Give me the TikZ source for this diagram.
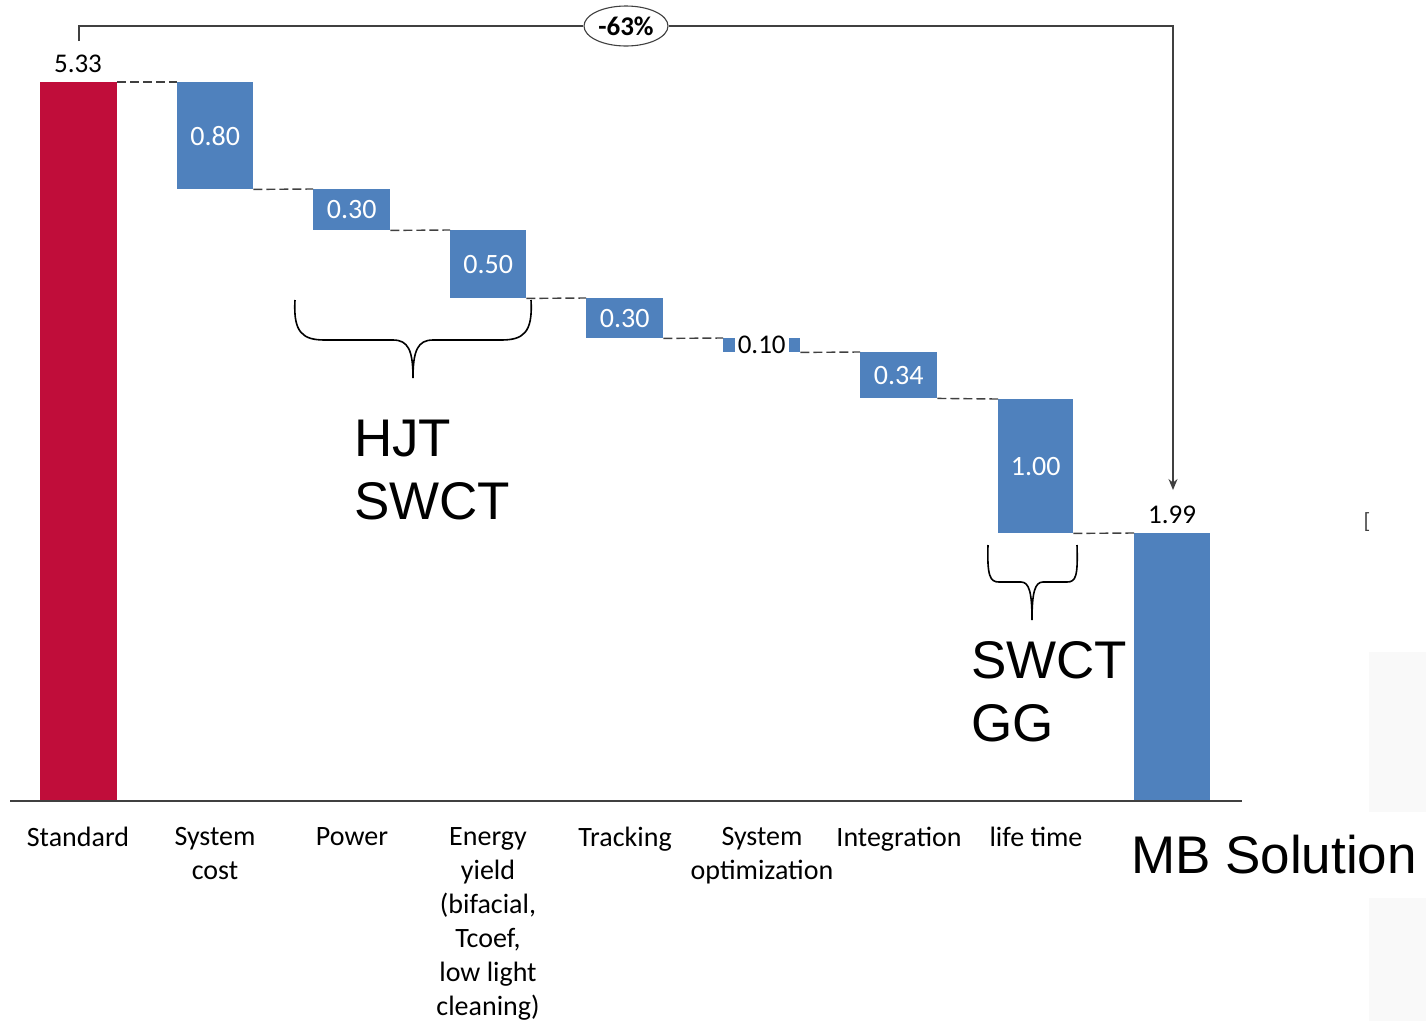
\documentclass[tikz,border=0pt]{standalone}
\usepackage{fontspec}
\setmainfont{Carlito}
\newfontfamily\arialf{Liberation Sans}
\usetikzlibrary{arrows.meta,shapes.geometric}
\definecolor{barblue}{HTML}{4F81BD}
\definecolor{barred}{HTML}{C00D3A}
\definecolor{linegray}{HTML}{404040}
\begin{document}
\begin{tikzpicture}[x=1pt,y=-1pt,
  bar/.style={fill=barblue,draw=none,inner sep=0pt,anchor=north west,text=white,
    font=\fontsize{28}{32}\selectfont},
  conn/.style={draw=linegray,line width=1.4pt,dash pattern=on 9pt off 4pt},
  catlab/.style={anchor=north,align=center,inner sep=0pt,font=\fontsize{28}{34}\selectfont},
  vallab/.style={inner sep=0pt,font=\fontsize{27}{30}\selectfont},
  biglab/.style={anchor=north west,align=left,inner sep=0pt,font=\arialf\fontsize{53}{63}\selectfont},
  brace/.style={draw=black,line width=1.6pt}]
\useasboundingbox (0,0) rectangle (1426,1021);
% faint background artefacts at right edge
\fill[gray!5] (1369,652) rectangle (1426,812);
\fill[gray!5] (1369,898) rectangle (1426,1021);
\node[inner sep=0pt,text=linegray,font=\fontsize{22}{24}\selectfont] (stray) at (1367,522) {[};
% bars
\node[bar,fill=barred,minimum width=77pt,minimum height=719pt] (b1) at (40,82) {};
\node[bar,minimum width=76pt,minimum height=107pt] (b2) at (177,82) {0.80};
\node[bar,minimum width=77pt,minimum height=41pt] (b3) at (313,189) {0.30};
\node[bar,minimum width=76pt,minimum height=68pt] (b4) at (450,230) {0.50};
\node[bar,minimum width=77pt,minimum height=40pt] (b5) at (586,298) {0.30};
\node[bar,minimum width=77pt,minimum height=14pt] (b6) at (723,338) {};
\node[bar,minimum width=77pt,minimum height=46pt] (b7) at (860,352) {0.34};
\node[bar,minimum width=75pt,minimum height=134pt] (b8) at (998,399) {1.00};
\node[bar,minimum width=76pt,minimum height=268pt] (b9) at (1134,533) {};
\node[vallab,fill=white,inner xsep=3pt] (v6) at (b6.center) {0.10};
\node[vallab,anchor=south] (v1) at (78,73) {5.33};
\node[vallab,anchor=south] (v9) at (1172,524) {1.99};
% dashed connectors
\draw[conn] (b1.north east) -- (b2.north west);
\draw[conn] (b2.south east) -- (b3.north west);
\draw[conn] (b3.south east) -- (b4.north west);
\draw[conn] (b4.south east) -- (b5.north west);
\draw[conn] (b5.south east) -- (b6.north west);
\draw[conn] (b6.south east) -- (b7.north west);
\draw[conn] (b7.south east) -- (b8.north west);
\draw[conn] (b8.south east) -- (b9.north west);
% axis
\coordinate (axL) at (10,801);
\coordinate (axR) at (1242,801);
\draw[linegray,line width=1.5pt] (axL) -- (axR);
% total change arrow
\coordinate (tS) at (79,41);
\coordinate (tE) at (1173,490);
\node[ellipse,draw=linegray,fill=white,line width=1.1pt,inner sep=1pt,minimum width=84pt,minimum height=40pt,
  font=\bfseries\fontsize{27}{30}\selectfont] (pct) at (626,26) {-63\%};
\draw[linegray,line width=1.3pt] (tS) |- (pct.west);
\draw[linegray,line width=1.3pt,-{Stealth[length=11pt,width=9pt]}] (pct.east) -| (tE);
% category labels
\node[catlab] (c1) at (78,827) {Standard};
\node[catlab] (c2) at (215,827) {System\\cost};
\node[catlab] (c3) at (352,827) {Power};
\node[catlab] (c4) at (488,827) {Energy\\yield\\(bifacial,\\Tcoef,\\low light\\cleaning)};
\node[catlab] (c5) at (625,827) {Tracking};
\node[catlab] (c6) at (762,827) {System\\optimization};
\node[catlab] (c7) at (899,827) {Integration};
\node[catlab] (c8) at (1036,827) {life time};
% braces
\draw[brace] (295,300) .. controls (293,333) and (303,340) .. (325,340) -- (393,340)
  .. controls (408,340) and (413,350) .. (413,378)
  .. controls (413,350) and (418,340) .. (433,340) -- (501,340)
  .. controls (523,340) and (533,333) .. (531,300);
\draw[brace] (988,545) .. controls (987,576) and (990,582) .. (999,582) -- (1021,582)
  .. controls (1029,582) and (1032,592) .. (1032,620)
  .. controls (1032,592) and (1035,582) .. (1043,582) -- (1067,582)
  .. controls (1076,582) and (1078,576) .. (1077,545);
% big labels
\node[biglab] (hjt) at (354,420) {HJT\\SWCT};
\node[biglab] (swct) at (971,641) {SWCT\\GG};
\node[biglab] (mb) at (1131,835) {MB Solution};
\end{tikzpicture}
\end{document}
